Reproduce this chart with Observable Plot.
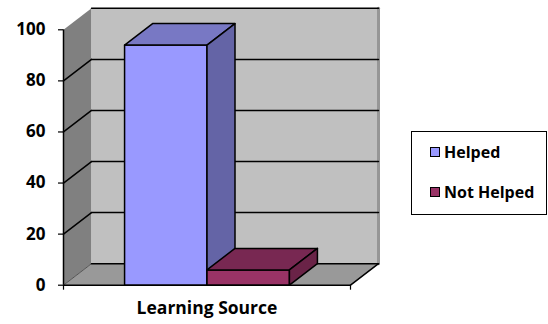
<!DOCTYPE html>
<html>
<head>
<meta charset="utf-8">
<script src="https://cdn.jsdelivr.net/npm/d3@7"></script>
<script src="https://cdn.jsdelivr.net/npm/@observablehq/plot@0.6"></script>
<style>
  html, body { margin: 0; padding: 0; background: #fff; }
  #wrap { position: relative; width: 548px; height: 324px; font-family: "Open Sans", sans-serif; }
  #legend { position: absolute; left: 411px; top: 131px; width: 134px; height: 82px;
            border: 1px solid #000; background: #fff; font-weight: bold; font-size: 16px; }
  .item { position: absolute; left: 18px; display: flex; align-items: center; white-space: nowrap; }
  .sw { width: 8px; height: 8px; border: 1.5px solid #000; margin-right: 4px; }
</style>
</head>
<body>
<div id="wrap"><div id="legend"></div></div>
<script>
// ---- data ----
const categories = ["Learning Source"];
const series = ["Helped", "Not Helped"];
const values = [94, 6];
const yTicks = [0, 20, 40, 60, 80, 100];

// ---- styles ----
const frontColors = ["#9999FF", "#993366"];
const topColors = ["#7878C4", "#782852"];
const sideColors = ["#6464A6", "#6A2347"];
const W = 548, H = 324;
const mL = 63, mR = 198, mT = 29.3, mB = 39.3;
const depthPx = [28, -21.5];               // oblique depth offset in px
const pxX = (W - mL - mR), pxY = (H - mT - mB) / 100;
const DX = depthPx[0] / pxX;               // depth offset in x units
const DY = -depthPx[1] / pxY;              // depth offset in value units
const barW = 0.2872;

const P = (x, y, d = 0) => ({x: x + d * DX, y: y + d * DY});
const poly = (pts, fill, stroke = "none", sw = 1.5) =>
  Plot.line(pts, {x: "x", y: "y", fill, stroke, strokeWidth: sw, curve: "linear-closed", strokeLinejoin: "round"});
const seg = (pts, stroke, sw = 1.5) =>
  Plot.line(pts, {x: "x", y: "y", stroke, strokeWidth: sw});

const marks = [];
// side wall
marks.push(poly([P(0,0), P(0,100), P(0,100,1), P(0,0,1)], "#808080"));
// back wall
marks.push(poly([P(0,0,1), P(0,100,1), P(1,100,1), P(1,0,1)], "#C0C0C0"));
marks.push(seg([P(1,0,1), P(1,100,1)], "#969696", 3));
// floor
marks.push(poly([P(0,0), P(1,0), P(1,0,1), P(0,0,1)], "#999999"));
marks.push(seg([P(0,0), P(0,0,1)], "#555", 1));
marks.push(seg([P(1,0), P(1,0,1)], "#000", 1.5));
// gridlines
yTicks.forEach(t => {
  marks.push(seg([P(0,t,1), P(1,t,1)], "#000", 1.5));
  if (t > 0 && t < 100) marks.push(seg([P(0,t), P(0,t,1)], "#000", 1.5));
});
// bars
const start = 0.5 - series.length * barW / 2;
series.forEach((s, i) => {
  const x0 = start + i * barW, x1 = x0 + barW, v = values[i];
  marks.push(poly([P(x0,0), P(x1,0), P(x1,v), P(x0,v)], frontColors[i], "#000"));
  marks.push(poly([P(x0,v), P(x1,v), P(x1,v,1), P(x0,v,1)], topColors[i], "#000"));
  marks.push(poly([P(x1,0), P(x1,v), P(x1,v,1), P(x1,0,1)], sideColors[i], "#000"));
});
// axes
marks.push(Plot.ruleX([0], {y1: 0, y2: 100, stroke: "#000", strokeWidth: 1.5}));
marks.push(Plot.ruleY([0], {x1: 0, x2: 1, stroke: "#000", strokeWidth: 1.5}));
marks.push(Plot.axisY(yTicks, {label: null, tickSize: 5, tickPadding: 13, fontSize: 17, fontWeight: "bold", fill: "#000", stroke: "#000", strokeWidth: 1.2}));
marks.push(Plot.axisX([0, 1], {label: null, tickSize: 5, tickFormat: () => "", stroke: "#000", strokeWidth: 1.2}));
marks.push(Plot.axisX([0.5], {label: null, tickSize: 0, tickPadding: 16, tickFormat: () => categories[0], fontSize: 17.5, fontWeight: "bold", fill: "#000"}));

const chart = Plot.plot({
  width: W, height: H,
  marginLeft: mL, marginRight: mR, marginTop: mT, marginBottom: mB,
  style: {fontFamily: "Open Sans, sans-serif", background: "#fff", overflow: "visible"},
  x: {domain: [0, 1], axis: null},
  y: {domain: [0, 100], axis: null},
  marks
});
const wrap = document.getElementById("wrap");
wrap.insertBefore(chart, wrap.firstChild);

// legend
const lg = document.getElementById("legend");
series.forEach((s, i) => {
  const it = document.createElement("div");
  it.className = "item";
  it.style.top = (i === 0 ? 9 : 49) + "px";
  it.innerHTML = `<span class="sw" style="background:${frontColors[i]}"></span><span>${s}</span>`;
  lg.appendChild(it);
});
</script>
</body>
</html>
